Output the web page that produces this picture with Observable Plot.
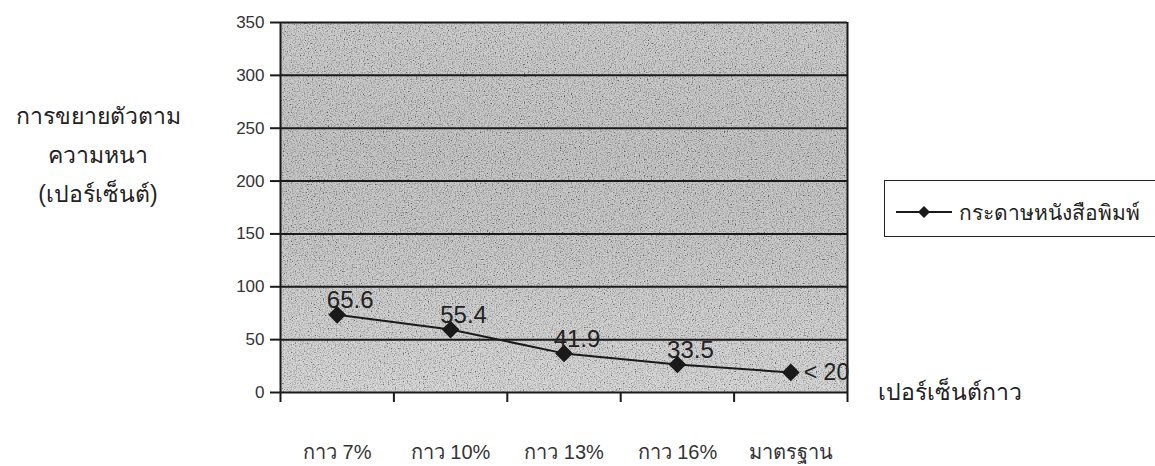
<!DOCTYPE html>
<html>
<head>
<meta charset="utf-8">
<script src="https://cdn.jsdelivr.net/npm/d3@7"></script>
<script src="https://cdn.jsdelivr.net/npm/@observablehq/plot@0.6"></script>
<style>
  html, body { margin: 0; padding: 0; background: #fff; }
  #wrap { position: relative; width: 1155px; height: 466px; font-family: "Liberation Sans", Arial, "Noto Sans", sans-serif; color: #222; }
  .ytitle { position: absolute; left: 0; width: 196px; top: 97px; text-align: center; font-size: 23px; line-height: 39px; }
  .xtitle { position: absolute; left: 878px; top: 374px; font-size: 23px; }
  .legend { position: absolute; left: 884px; top: 180px; width: 290px; height: 57px; border: 1.5px solid #222; box-sizing: border-box; background: #fff; }
  .legend svg { position: absolute; left: 9px; top: 23px; }
  .legend span { position: absolute; left: 74px; top: 15px; font-size: 21px; white-space: nowrap; }
</style>
</head>
<body>
<div id="wrap"></div>
<script>
// Data
const categories = ["กาว 7%", "กาว 10%", "กาว 13%", "กาว 16%", "มาตรฐาน"];
const values = [73.5, 59.5, 37, 26.5, 19];          // plotted positions
const labels = ["65.6", "55.4", "41.9", "33.5", "< 20"]; // printed data labels
const yTicks = [0, 50, 100, 150, 200, 250, 300, 350];
const seriesName = "กระดาษหนังสือพิมพ์";
const yTitle = ["การขยายตัวตาม", "ความหนา", "(เปอร์เซ็นต์)"];
const xTitle = "เปอร์เซ็นต์กาว";

const data = categories.map((c, i) => ({i, c, v: values[i], label: labels[i]}));
const boundaries = d3.range(categories.length + 1);
const font = '"Liberation Sans", Arial, "Noto Sans", sans-serif';

const chart = Plot.plot({
  width: 1155,
  height: 466,
  marginLeft: 280,
  marginRight: 308,
  marginTop: 22,
  marginBottom: 74,
  style: {fontFamily: font, color: "#222", background: "transparent", overflow: "visible"},
  x: {domain: [0, categories.length], axis: null, label: null},
  y: {domain: [0, 350], axis: null, label: null},
  marks: [
    Plot.frame({fill: "url(#bgGrad)", stroke: null}),
    Plot.frame({fill: "#fff", stroke: null}),
    Plot.ruleY(yTicks, {stroke: "#1a1a1a", strokeWidth: 2}),
    Plot.axisY({ticks: yTicks, label: null, tickSize: 10, tickPadding: 6, fontSize: 17, stroke: "#1a1a1a", strokeWidth: 2, fill: "#333"}),
    Plot.ruleX([0], {y1: 0, y2: 350, stroke: "#1a1a1a", strokeWidth: 2}),
    Plot.ruleX([categories.length], {y1: 0, y2: 350, stroke: "#1a1a1a", strokeWidth: 2}),
    Plot.axisX({ticks: boundaries, label: null, tickSize: 10, tickFormat: () => "", stroke: "#1a1a1a", strokeWidth: 2}),
    Plot.axisX({ticks: data.map(d => d.i + 0.5), label: null, tickSize: 0, tickPadding: 52, fontSize: 20, fill: "#333",
      tickFormat: (t) => categories[Math.floor(t)]}),
    Plot.line(data, {x: d => d.i + 0.5, y: "v", stroke: "#1a1a1a", strokeWidth: 2}),
    Plot.dot(data, {x: d => d.i + 0.5, y: "v", symbol: "diamond2", r: 7, fill: "#1a1a1a", stroke: "#1a1a1a"}),
    Plot.text(data.slice(0, 4), {x: d => d.i + 0.5, y: "v", text: "label", dx: 13, dy: -14, fontSize: 24, fill: "#222"}),
    Plot.text(data.slice(4), {x: d => d.i + 0.5, y: "v", text: "label", dx: 13, dy: 0, textAnchor: "start", fontSize: 23, fill: "#222"})
  ]
});

// background gradient + grain texture
const svg = d3.select(chart);
const defs = svg.insert("defs", ":first-child");
const g = defs.append("linearGradient").attr("id", "bgGrad").attr("x1", 0).attr("y1", 0).attr("x2", 0).attr("y2", 1);
[[0, "#aeaeae"], [0.35, "#a2a2a2"], [0.6, "#a8a8a8"], [0.8, "#b5b5b5"], [1, "#bfbfbf"]]
  .forEach(([o, c]) => g.append("stop").attr("offset", o).attr("stop-color", c));
const f = defs.append("filter").attr("id", "grain").attr("x", 0).attr("y", 0).attr("width", 1).attr("height", 1);
f.append("feTurbulence").attr("type", "fractalNoise").attr("baseFrequency", 0.75).attr("numOctaves", 2).attr("seed", 4).attr("result", "n");
f.append("feColorMatrix").attr("in", "n").attr("type", "matrix")
  .attr("values", "2.6 0 0 0 -0.55  2.6 0 0 0 -0.55  2.6 0 0 0 -0.55  0 0 0 0 1");
const frames = svg.selectAll('[aria-label="frame"]').nodes();
if (frames[1]) {
  d3.select(frames[1]).attr("filter", "url(#grain)").attr("opacity", 0.4);
}

const wrap = document.getElementById("wrap");
wrap.appendChild(chart);
chart.style.position = "absolute";
chart.style.left = "0";
chart.style.top = "0";

const yt = document.createElement("div");
yt.className = "ytitle";
yt.innerHTML = yTitle.map(t => `<div>${t}</div>`).join("");
wrap.appendChild(yt);

const xt = document.createElement("div");
xt.className = "xtitle";
xt.textContent = xTitle;
wrap.appendChild(xt);

const lg = document.createElement("div");
lg.className = "legend";
lg.innerHTML = `<svg width="60" height="16"><line x1="2" y1="8" x2="58" y2="8" stroke="#1a1a1a" stroke-width="2"/><path d="M30,2 L36,8 L30,14 L24,8 Z" fill="#1a1a1a"/></svg><span>${seriesName}</span>`;
wrap.appendChild(lg);
</script>
</body>
</html>
